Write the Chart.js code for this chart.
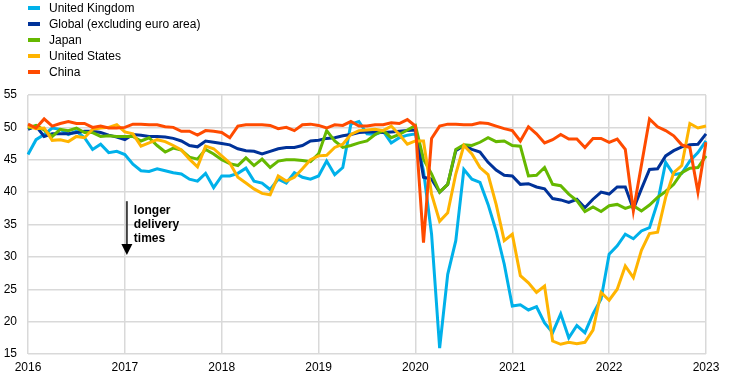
<!DOCTYPE html>
<html>
<head>
<meta charset="utf-8">
<script src="https://cdn.jsdelivr.net/npm/chart.js@4.4.1/dist/chart.umd.min.js"></script>
<style>
  html, body { margin: 0; padding: 0; background: #fff; }
  #wrap { position: relative; width: 744px; height: 382px; }
  #legend { position: absolute; left: 28px; top: 0; font-family: "Liberation Sans", Arial, sans-serif; font-size: 12px; color: #000; }
  #legend .row { height: 16.1px; line-height: 16.1px; white-space: nowrap; }
  #legend .sw { display: inline-block; width: 12px; height: 4px; vertical-align: middle; margin-right: 9px; position: relative; top: -1px; }
</style>
</head>
<body>
<div id="wrap">
  <canvas id="c"></canvas>
  <div id="legend"></div>
</div>
<script>
const years = ['2016', '2017', '2018', '2019', '2020', '2021', '2022', '2023'];
const yTicks = [15, 20, 25, 30, 35, 40, 45, 50, 55];

const unitedKingdom = [
  45.8, 48.1, 48.9, 49.9, 49.7, 48.9, 49.4, 48.4, 46.6, 47.4, 46.1, 46.3,
  45.8, 44.3, 43.3, 43.2, 43.6, 43.3, 43.0, 42.8, 42.0, 41.7, 42.9, 40.7,
  42.5, 42.5, 42.9, 43.7, 41.7, 41.4, 40.4, 42.0, 41.4, 43.0, 42.3, 42.0,
  42.5, 44.8, 42.7, 43.8, 50.5, 50.9, 49.0, 48.9, 49.4, 47.6, 48.4, 48.8,
  49.0, 43.3, 33.5, 15.9, 27.3, 32.5, 43.5, 42.0, 41.5, 38.1, 34.0, 28.9,
  22.4, 22.6, 21.8, 22.3, 19.8, 18.3, 21.2, 17.5, 19.4, 18.3, 21.2, 23.5,
  30.4, 31.7, 33.5, 32.8, 34.0, 34.5, 38.4, 44.6, 42.7, 42.9, 44.8, 46.1,
  47.9
];
const globalExEuro = [
  49.7, 50.2, 48.6, 49.0, 49.0, 49.0, 49.2, 49.4, 49.4, 49.2, 48.8, 48.5,
  48.1, 48.9, 48.8, 48.6, 48.6, 48.5, 48.3, 47.9, 47.2, 47.0, 47.9, 47.7,
  47.5, 47.3, 46.7, 46.4, 46.3, 45.9, 46.3, 46.7, 46.9, 46.9, 47.2, 47.9,
  48.0, 48.3, 48.4, 48.7, 48.9, 49.2, 49.3, 49.3, 49.2, 49.3, 49.4, 49.5,
  49.6, 42.3, 42.0, 40.0, 41.2, 46.4, 47.2, 46.6, 46.2, 44.6, 43.4, 42.6,
  42.5, 41.2, 41.3, 40.8, 40.5, 39.0, 38.8, 38.4, 38.9, 37.6, 38.9, 40.0,
  39.7, 40.8, 40.8, 37.4, 40.5, 43.5, 43.6, 45.6, 46.4, 47.0, 47.3, 47.4,
  49.0
];
const japan = [
  49.9, 50.3, 49.6, 48.6, 49.7, 49.5, 49.9, 49.2, 49.2, 48.6, 48.7, 48.6,
  48.6, 48.6, 47.9, 48.4, 47.2, 46.2, 46.8, 46.5, 45.4, 45.1, 46.6, 45.9,
  45.0, 44.4, 44.1, 45.3, 44.1, 45.1, 43.8, 44.8, 45.0, 45.0, 44.9, 44.7,
  45.9, 49.5, 47.9, 46.9, 47.2, 47.6, 47.9, 48.9, 49.5, 48.4, 48.9, 49.6,
  50.3, 45.1, 42.8, 40.0, 41.2, 46.6, 47.3, 47.2, 47.7, 48.4, 47.8, 47.9,
  47.2, 47.1, 42.5, 42.6, 43.8, 41.2, 41.0, 39.7, 38.7, 37.0, 37.7, 37.0,
  37.9, 38.1, 37.5, 37.9, 37.1, 38.0, 39.2, 40.1, 41.2, 43.0, 43.7, 43.8,
  45.6
];
const unitedStates = [
  50.2, 49.8, 49.9, 48.0, 48.1, 47.8, 48.6, 48.4, 49.7, 49.9, 50.0, 50.4,
  49.3, 49.0, 47.1, 47.6, 48.1, 47.8, 47.2, 46.5, 45.1, 43.9, 47.1, 46.7,
  45.6, 44.5, 42.3, 41.4, 40.5, 39.8, 39.6, 42.5, 41.7, 42.3, 43.6, 45.0,
  45.6, 45.7, 46.9, 47.4, 48.9, 49.5, 49.6, 49.7, 49.5, 50.2, 48.9, 47.4,
  47.9, 47.9, 39.7, 35.5, 36.8, 42.8, 47.2, 45.9, 43.8, 42.7, 38.1, 32.5,
  33.5, 27.1, 26.0, 24.5, 25.5, 17.0, 16.5, 16.8, 16.6, 16.8, 18.7, 24.5,
  23.3, 25.0, 28.6, 26.8, 31.0, 33.6, 33.8, 39.2, 43.0, 44.1, 50.6, 49.9,
  50.2
];
const china = [
  50.5, 49.9, 51.3, 50.2, 50.6, 50.9, 50.6, 50.6, 50.0, 50.2, 49.9, 49.9,
  50.0, 50.5, 50.5, 50.4, 50.4, 50.1, 50.0, 49.4, 49.4, 48.8, 49.5, 49.4,
  49.2, 48.4, 50.2, 50.4, 50.4, 50.4, 50.3, 49.8, 50.0, 49.5, 50.4, 50.5,
  50.3, 49.9, 50.4, 50.3, 50.9, 50.2, 50.2, 50.4, 50.4, 50.7, 50.6, 51.2,
  50.2, 32.2, 48.3, 50.2, 50.5, 50.5, 50.4, 50.4, 50.7, 50.6, 50.2, 49.8,
  49.5, 47.9, 50.1, 49.0, 47.6, 48.1, 48.9, 48.2, 48.2, 46.9, 48.3, 48.3,
  47.7, 48.2, 46.6, 37.1, 44.2, 51.3, 50.1, 49.5, 48.7, 47.3, 46.9, 40.0,
  47.7
];

const seriesNames = ['United Kingdom', 'Global (excluding euro area)', 'Japan', 'United States', 'China'];
const seriesColors = ['#00B1EA', '#003299', '#65B800', '#FFB400', '#FF4B00'];
const seriesData = [unitedKingdom, globalExEuro, japan, unitedStates, china];

// monthly categories Jan 2016 .. Jan 2023
const months = [];
years.forEach((y, yi) => {
  for (let m = 1; m <= 12; m++) {
    if (yi === years.length - 1 && m > 1) break;
    months.push(y + '-' + String(m).padStart(2, '0'));
  }
});

const FONT = '"Liberation Sans", Arial, sans-serif';
Chart.defaults.font.family = FONT;
Chart.defaults.font.size = 12;
Chart.defaults.color = '#000';

const annotationPlugin = {
  id: 'delivery',
  afterDatasetsDraw(chart) {
    const ctx = chart.ctx;
    const xs = chart.scales.x, ys = chart.scales.y;
    const x = xs.getPixelForValue(12) + 2;
    const yTop = ys.getPixelForValue(38.6);
    const yTip = ys.getPixelForValue(30.3);
    ctx.save();
    ctx.strokeStyle = '#404040';
    ctx.lineWidth = 2;
    ctx.beginPath();
    ctx.moveTo(x, yTop);
    ctx.lineTo(x, yTip - 9);
    ctx.stroke();
    ctx.fillStyle = '#000';
    ctx.beginPath();
    ctx.moveTo(x - 5.5, yTip - 11);
    ctx.lineTo(x + 5.5, yTip - 11);
    ctx.lineTo(x, yTip);
    ctx.closePath();
    ctx.fill();
    ctx.font = 'bold 12px ' + FONT;
    ctx.textBaseline = 'middle';
    ctx.textAlign = 'left';
    const lines = ['longer', 'delivery', 'times'];
    lines.forEach((t, i) => ctx.fillText(t, x + 7, yTop + 9 + i * 14));
    ctx.restore();
  }
};

const chart = new Chart(document.getElementById('c'), {
  type: 'line',
  data: {
    labels: months,
    datasets: seriesData.map((d, i) => ({
      label: seriesNames[i],
      data: d,
      borderColor: seriesColors[i],
      backgroundColor: seriesColors[i],
      borderWidth: 3,
      pointRadius: 0,
      tension: 0,
      fill: false,
      order: seriesData.length - 1 - i
    }))
  },
  options: {
    responsive: true,
    maintainAspectRatio: false,
    animation: false,
    layout: { padding: { top: 95, right: 38, bottom: 0, left: 0 } },
    plugins: { legend: { display: false }, tooltip: { enabled: false } },
    scales: {
      x: {
        type: 'category',
        offset: false,
        border: { display: false },
        grid: {
          drawTicks: false,
          lineWidth: 1.5,
          color: (c) => (c.index % 12 === 0 ? '#d9d9d9' : 'rgba(0,0,0,0)')
        },
        ticks: {
          autoSkip: false,
          maxRotation: 0,
          padding: 6,
          callback: function (v, i) { return i % 12 === 0 ? years[i / 12] : ''; }
        },
        afterFit(s) { s.height = 28; }
      },
      y: {
        min: 15,
        max: 55,
        border: { display: false },
        grid: { drawTicks: false, lineWidth: 1.5, color: '#d9d9d9' },
        ticks: {
          padding: 11,
          stepSize: 5,
          callback: (v) => (yTicks.includes(v) ? String(v) : '')
        },
        afterFit(s) { s.width = 28; }
      }
    }
  },
  plugins: [annotationPlugin]
});

const leg = document.getElementById('legend');
seriesNames.forEach((n, i) => {
  const row = document.createElement('div');
  row.className = 'row';
  const sw = document.createElement('span');
  sw.className = 'sw';
  sw.style.background = seriesColors[i];
  row.appendChild(sw);
  row.appendChild(document.createTextNode(n));
  leg.appendChild(row);
});
</script>
</body>
</html>
